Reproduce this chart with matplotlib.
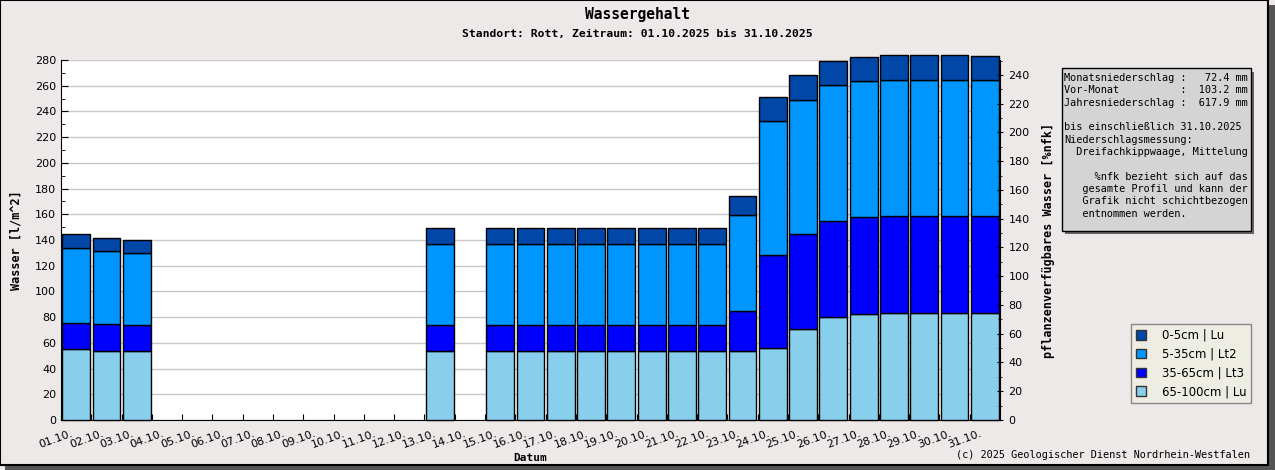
from matplotlib import pyplot as plt
from matplotlib.patches import Rectangle, Patch
from matplotlib.transforms import ScaledTranslation
import numpy as np

# Tage 01.10. - 31.10.
days = ['%02d.10.' % d for d in range(1, 32)]

# Schichtdicken [l/m^2], None = keine Messung
layer_65_100 = [55.0, 53.9, 53.9, None, None, None, None, None, None, None, None, None,
                53.4, None, 53.4, 53.4, 53.4, 53.4, 53.4, 53.4, 53.4, 53.4,
                53.4, 55.7, 70.5, 79.8, 82.2, 83.0, 83.0, 83.0, 83.0]
layer_35_65 = [20.2, 20.5, 20.0, None, None, None, None, None, None, None, None, None,
               20.2, None, 20.2, 20.2, 20.2, 20.2, 20.2, 20.2, 20.2, 20.2,
               31.4, 72.6, 73.9, 75.2, 75.7, 75.7, 75.7, 75.7, 75.7]
layer_5_35 = [58.3, 56.8, 56.0, None, None, None, None, None, None, None, None, None,
              63.0, None, 63.0, 63.0, 63.0, 63.0, 63.0, 63.0, 63.0, 63.0,
              74.4, 104.0, 104.8, 105.3, 105.5, 105.4, 105.4, 105.4, 105.4]
layer_0_5 = [10.9, 10.1, 10.1, None, None, None, None, None, None, None, None, None,
             12.4, None, 12.4, 12.4, 12.4, 12.4, 12.4, 12.4, 12.4, 12.4,
             14.8, 18.7, 18.9, 18.7, 18.7, 19.5, 19.5, 19.5, 18.7]

layer_names = ['65-100cm | Lu', '35-65cm | Lt3', '5-35cm | Lt2', '0-5cm | Lu']
layer_colors = ['#88cfee', '#0000ff', '#0096ff', '#0047a8']

info_text = ("Monatsniederschlag :   72.4 mm\n"
             "Vor-Monat          :  103.2 mm\n"
             "Jahresniederschlag :  617.9 mm\n"
             "\n"
             "bis einschließlich 31.10.2025\n"
             "Niederschlagsmessung:\n"
             "  Dreifachkippwaage, Mittelung\n"
             "\n"
             "     %nfk bezieht sich auf das\n"
             "   gesamte Profil und kann der\n"
             "   Grafik nicht schichtbezogen\n"
             "   entnommen werden.")

W, H = 1275, 470
bg = '#ece9e8'
mono = 'DejaVu Sans Mono'


def fx(x):
    return x / W


def fy(y):
    return 1 - y / H


fig = plt.figure(figsize=(W / 100, H / 100), dpi=100, facecolor=bg)

# Rahmen mit Schatten
fig.patches.append(Rectangle((fx(5), 0), fx(1275) - fx(5), fy(465), transform=fig.transFigure,
                             facecolor='#555555', edgecolor='none', zorder=-2))
fig.patches.append(Rectangle((fx(1268), 0), fx(7), fy(5), transform=fig.transFigure,
                             facecolor='#555555', edgecolor='none', zorder=-2))
fig.patches.append(Rectangle((0, fy(465)), fx(1268), 1 - fy(465), transform=fig.transFigure,
                             facecolor=bg, edgecolor='black', linewidth=1.5, zorder=-1))

ax = fig.add_axes([fx(61), fy(420), fx(1000) - fx(61), fy(60) - fy(420)])
ax.set_facecolor('white')

x = np.arange(len(days))
layers = [layer_65_100, layer_35_65, layer_5_35, layer_0_5]
valid = np.array([v is not None for v in layer_65_100])
bottom = np.zeros(len(days))
for vals, name, col in zip(layers, layer_names, layer_colors):
    h = np.array([v if v is not None else 0 for v in vals], dtype=float)
    bars = ax.bar(x[valid] + 0.04, h[valid], width=0.92, bottom=bottom[valid], align='edge',
                  color=col, edgecolor='black', linewidth=1.0, label=name, zorder=3)
    for b in bars:
        b.set_clip_on(False)
    bottom += h

ax.set_xlim(0, 31)
ax.set_ylim(0, 280)
ax.set_yticks(np.arange(0, 281, 20))
ax.set_yticks(np.arange(0, 281, 10), minor=True)
ax.yaxis.grid(True, color='#c8c8c8', linewidth=1, zorder=0)
ax.set_axisbelow(True)
ax.spines['top'].set_visible(False)
ax.spines['right'].set_visible(False)
ax.tick_params(axis='y', which='major', direction='in', length=5, labelsize=8, colors='black')
ax.tick_params(axis='y', which='minor', direction='in', length=3)

ax.set_xticks(x)
ax.set_xticklabels(days, rotation=20, ha='right', va='top', rotation_mode='anchor', fontsize=8)
ax.tick_params(axis='x', direction='in', length=4, pad=6)
for lab in ax.get_xticklabels():
    lab.set_transform(lab.get_transform() + ScaledTranslation(0.10, 0, fig.dpi_scale_trans))

ax.set_xlabel('Datum', family=mono, fontweight='bold', fontsize=8, labelpad=2)
ax.set_ylabel('Wasser [l/m^2]', family=mono, fontweight='bold', fontsize=8.5, labelpad=9)

ax2 = ax.twinx()
ax2.set_ylim(0, 250.4)
ax2.set_yticks(np.arange(0, 241, 20))
ax2.set_yticks(np.arange(0, 251, 10), minor=True)
ax2.tick_params(axis='y', which='major', direction='inout', length=5, labelsize=8)
ax2.tick_params(axis='y', which='minor', direction='inout', length=3)
ax2.spines['top'].set_visible(False)
ax2.spines['left'].set_visible(False)
ax2.spines['bottom'].set_visible(False)
ax2.set_ylabel('pflanzenverfügbares Wasser [%nfk]', family=mono, fontweight='bold',
               fontsize=8.5, labelpad=9)

# Titel
fig.text(0.5, fy(14), 'Wassergehalt', ha='center', va='center', family=mono,
         fontweight='bold', fontsize=10.5)
fig.text(0.5, fy(34), 'Standort: Rott, Zeitraum: 01.10.2025 bis 31.10.2025', ha='center',
         va='center', family=mono, fontweight='bold', fontsize=8.2)

# Infobox
fig.patches.append(Rectangle((fx(1065), fy(234)), fx(1254) - fx(1065), fy(72) - fy(234),
                             transform=fig.transFigure, facecolor='#666666', edgecolor='none'))
fig.patches.append(Rectangle((fx(1062), fy(231)), fx(1251) - fx(1062), fy(68) - fy(231),
                             transform=fig.transFigure, facecolor='#d4d4d4', edgecolor='black',
                             linewidth=1))
fig.text(fx(1064), fy(73), info_text, ha='left', va='top', family=mono, fontsize=7.4,
         linespacing=1.29)

# Legende
handles = [Patch(facecolor=c, edgecolor='#333333', label=n)
           for c, n in zip(layer_colors[::-1], layer_names[::-1])]
fig.patches.append(Rectangle((fx(1134), fy(401)), fx(1252) - fx(1134), fy(324) - fy(401),
                             transform=fig.transFigure, facecolor='#666666', edgecolor='none'))
leg = fig.legend(handles=handles, loc='upper left', bbox_to_anchor=(fx(1131), fy(324)),
                 fontsize=8.5, frameon=True, fancybox=False, framealpha=1,
                 facecolor='#ededE3', edgecolor='#888888', handlelength=0.9, handleheight=0.9,
                 handletextpad=1.3, labelspacing=0.5, borderpad=0.4, borderaxespad=0)
leg.get_frame().set_linewidth(1)

fig.text(fx(1250), fy(455), '(c) 2025 Geologischer Dienst Nordrhein-Westfalen', ha='right',
         va='center', family=mono, fontsize=7.4)

fig.savefig('out.png', dpi=100, facecolor=bg)
